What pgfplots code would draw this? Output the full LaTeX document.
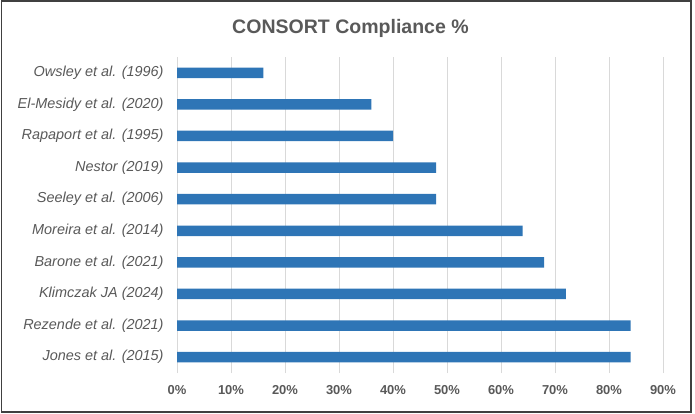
\documentclass[border=0pt]{standalone}
\usepackage{pgfplots}
\pgfplotsset{compat=1.18}
\usepackage{fontspec}
\setmainfont{Liberation Sans}

\definecolor{barblue}{HTML}{2E75B6}
\definecolor{txtgray}{HTML}{595959}
\definecolor{gridgray}{HTML}{D9D9D9}
\definecolor{framegray}{HTML}{404040}

\pgfplotstableread{
idx value
0 84
1 84
2 72
3 68
4 64
5 48
6 48
7 40
8 36
9 16
}\compliance

\begin{document}
\begin{tikzpicture}
\path[use as bounding box] (0,0) rectangle (695bp,414bp);
\draw[framegray, line width=1.8bp] (1.5bp,2bp) rectangle (691bp,413bp);

\begin{axis}[
  at={(177bp,41bp)}, anchor=south west,
  scale only axis,
  width=486bp, height=316bp,
  xmin=0, xmax=90,
  ymin=-0.5, ymax=9.5,
  xtick={0,10,...,90},
  xticklabels={0\%,10\%,20\%,30\%,40\%,50\%,60\%,70\%,80\%,90\%},
  ytick={0,...,9},
  yticklabels={Jones et al. (2015),Rezende et al. (2021),Klimczak JA (2024),Barone et al. (2021),Moreira et al. (2014),Seeley et al. (2006),Nestor (2019),Rapaport et al. (1995),El-Mesidy et al. (2020),Owsley et al. (1996)},
  axis line style={draw=none},
  major tick style={draw=none},
  xmajorgrids,
  major grid style={gridgray, line width=0.9bp},
  xticklabel style={inner sep=0pt, anchor=north, yshift=-12bp,
    font=\fontsize{13}{15}\selectfont\bfseries, text=txtgray},
  yticklabel style={inner sep=0pt, anchor=east, xshift=-9bp,
    font=\fontsize{14.5}{17}\selectfont\itshape, text=txtgray},
  xbar, bar width=10.5bp,
]
\addplot[fill=barblue, draw=none] table[x=value, y=idx] {\compliance};
\end{axis}

\node[anchor=base, text=txtgray, font=\fontsize{19.6}{23}\selectfont\bfseries]
  at (350.5bp,380bp) {CONSORT Compliance \%};
\end{tikzpicture}
\end{document}
